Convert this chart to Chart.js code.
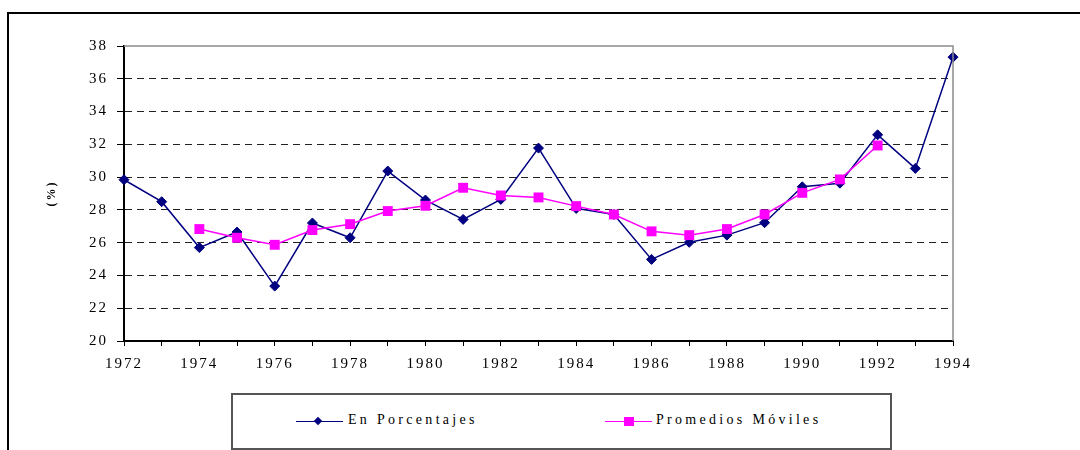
<!DOCTYPE html>
<html>
<head>
<meta charset="utf-8">
<script src="https://cdn.jsdelivr.net/npm/chart.js@4"></script>
<style>
  html, body { margin: 0; padding: 0; background: #fff; }
  #wrap { position: relative; width: 1080px; height: 450px; overflow: hidden; }
  #frame { position: absolute; left: 7px; top: 12px; width: 1080px; height: 450px;
           border-top: 2px solid #000; border-left: 2px solid #000; }
  canvas { position: absolute; left: 0; top: 0; }
  #legend { position: absolute; left: 231px; top: 393px; width: 657px; height: 53px;
            border: 2px solid #555; background: #fff;
            font-family: 'Liberation Serif', 'Times New Roman', serif; font-size: 14px; color: #000; }
  .item { position: absolute; top: 0; height: 53px; }
  .line { position: absolute; top: 26px; width: 47px; height: 0; border-top: 1.5px solid; }
  .mark { position: absolute; }
  .txt { position: absolute; top: 17px; letter-spacing: 3.3px; white-space: nowrap; }
</style>
</head>
<body>
<div id="wrap">
  <div id="frame"></div>
  <canvas id="chart" width="1080" height="450"></canvas>
  <div id="legend">
    <div class="item" style="left:63px">
      <div class="line" style="left:0; border-color:#000080"></div>
      <div class="mark" style="left:19px; top:23px; width:6px; height:6px; background:#000080; transform:rotate(45deg)"></div>
      <div class="txt" style="left:52px">En Porcentajes</div>
    </div>
    <div class="item" style="left:372px">
      <div class="line" style="left:0; border-color:#ff00ff"></div>
      <div class="mark" style="left:19px; top:22px; width:10px; height:9px; background:#ff00ff"></div>
      <div class="txt" style="left:51px">Promedios Móviles</div>
    </div>
  </div>
</div>
<script>
// años del eje x
const years = ['1972', '1973', '1974', '1975', '1976', '1977', '1978', '1979', '1980', '1981', '1982',
               '1983', '1984', '1985', '1986', '1987', '1988', '1989', '1990', '1991', '1992', '1993', '1994'];

// serie en porcentajes (%)
const porcentajes = [29.84, 28.5, 25.7, 26.65, 23.35, 27.2, 26.3, 30.37, 28.6, 27.42, 28.64,
                     31.77, 28.09, 27.72, 24.98, 26.02, 26.46, 27.22, 29.41, 29.63, 32.58, 30.53, 37.32];

// promedios móviles (sin valor en los extremos)
const promedios = [null, null, 26.83, 26.3, 25.87, 26.77, 27.13, 27.93, 28.25, 29.35, 28.88,
                   28.76, 28.23, 27.72, 26.69, 26.46, 26.83, 27.72, 29.04, 29.86, 31.93, null, null];

const yMin = 20, yMax = 38, yStep = 2;

const serif = "'Liberation Serif', 'Times New Roman', serif";

// espaciado entre letras + marco gris del área de trazado
const plotFrame = {
    id: 'plotFrame',
    beforeDraw(chart) {
        chart.ctx.letterSpacing = '2px';
    },
    afterDatasetsDraw(chart) {
        const { ctx, chartArea: a } = chart;
        ctx.save();
        ctx.strokeStyle = '#8c8c8c';
        ctx.lineWidth = 1.5;
        ctx.beginPath();
        ctx.moveTo(a.left, a.top);
        ctx.lineTo(a.right, a.top);
        ctx.lineTo(a.right, a.bottom);
        ctx.stroke();
        ctx.restore();
    }
};

new Chart(document.getElementById('chart').getContext('2d'), {
    type: 'line',
    data: {
        labels: years,
        datasets: [{
            label: 'En Porcentajes',
            data: porcentajes,
            order: 2,
            borderColor: '#000080',
            backgroundColor: '#000080',
            borderWidth: 1.5,
            tension: 0,
            pointStyle: 'rectRot',
            pointRadius: 5,
            pointBorderWidth: 1,
        }, {
            label: 'Promedios Móviles',
            data: promedios,
            order: 1,
            borderColor: '#ff00ff',
            backgroundColor: '#ff00ff',
            borderWidth: 1.5,
            tension: 0,
            spanGaps: false,
            pointStyle: 'rect',
            pointRadius: 7,
            pointBorderWidth: 0,
        }]
    },
    options: {
        responsive: false,
        animation: false,
        layout: { padding: { left: 0, top: 46, right: 127, bottom: 69 } },
        plugins: { legend: { display: false }, tooltip: { enabled: false } },
        scales: {
            x: {
                afterFit: s => { s.height = 40; },
                grid: { drawOnChartArea: false, tickLength: 5, tickColor: '#000', tickWidth: 1 },
                border: { color: '#000', width: 2 },
                ticks: {
                    autoSkip: false,
                    maxRotation: 0,
                    padding: 9,
                    color: '#000',
                    font: { family: serif, size: 15 },
                    callback: (v, i) => (i % 2 === 0 ? years[i] : '')
                }
            },
            y: {
                min: yMin,
                max: yMax,
                afterFit: s => { s.width = 124; },
                grid: {
                    color: c => (c.tick.value === yMin || c.tick.value === yMax ? 'rgba(0,0,0,0)' : '#222'),
                    lineWidth: 1,
                    tickLength: 7,
                    tickColor: '#000',
                    tickWidth: 1
                },
                border: { color: '#000', width: 2, dash: [7, 5] },
                ticks: {
                    stepSize: yStep,
                    padding: 9,
                    color: '#000',
                    font: { family: serif, size: 15 }
                },
                title: {
                    display: true,
                    text: '(%)',
                    color: '#000',
                    padding: { top: 45, bottom: 0 },
                    font: { family: serif, size: 12, weight: 'bold' }
                }
            }
        }
    },
    plugins: [plotFrame]
});
</script>
</body>
</html>
